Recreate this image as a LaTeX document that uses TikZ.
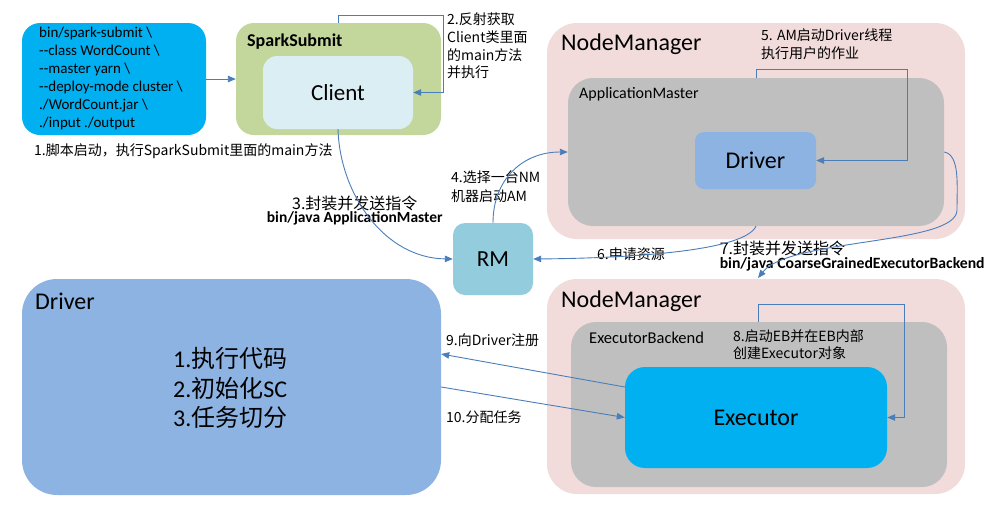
\documentclass[tikz,border=0pt]{standalone}
\usepackage{fontspec}
\setmainfont{Carlito}[Ligatures=TeXOff]
\newfontfamily\cjk{Noto Sans CJK SC}
\usetikzlibrary{arrows.meta}
\definecolor{cmdblue}{HTML}{00B0F0}
\definecolor{ssgreen}{HTML}{C3D69B}
\definecolor{clientbg}{HTML}{DBEEF4}
\definecolor{nmpink}{HTML}{F2DCDB}
\definecolor{amgray}{HTML}{BFBFBF}
\definecolor{drvblue}{HTML}{8DB3E2}
\definecolor{rmblue}{HTML}{93CDDD}
\definecolor{arrowblue}{HTML}{4A7EBB}
\newcommand\myfs[2]{\fontsize{#1}{#2}\selectfont}
\tikzset{
  box/.style={rounded corners=#1, inner sep=0pt, draw=none},
  box/.default=15,
  conn/.style={draw=arrowblue, line width=0.9pt, -{Triangle[length=8pt,width=6.5pt]}},
  lbl/.style={inner sep=0pt, font=\cjk\myfs{14}{18}, align=left},
  title/.style={inner sep=0pt, anchor=west},
}
\begin{document}
\begin{tikzpicture}[x=1pt,y=-1pt]
\useasboundingbox (0,0) rectangle (1002,515);
\fill[white] (0,0) rectangle (1002,515);

% ---------- boxes ----------
\node[box=18, fill=cmdblue, minimum width=184pt, minimum height=112pt] (cmd) at (114,79) {};
\node[box=18, fill=ssgreen, minimum width=205pt, minimum height=112pt] (ss) at (338.5,79) {};
\node[box=14, fill=clientbg, minimum width=150pt, minimum height=73pt, font=\myfs{23}{27}] (client) at (338,92.5) {Client};

\node[box=30, fill=nmpink, minimum width=418pt, minimum height=216pt] (nm1) at (756,131) {};
\node[box=25, fill=amgray, minimum width=376pt, minimum height=148pt] (am) at (756,152) {};
\node[box=9, fill=drvblue, minimum width=121pt, minimum height=57pt, font=\myfs{24}{28}] (drv) at (755.5,160.5) {Driver};

\node[box=12, fill=rmblue, minimum width=80pt, minimum height=72pt, font=\myfs{23}{27}] (rm) at (493,259) {RM};

\node[box=35, fill=drvblue, minimum width=419pt, minimum height=216pt] (bigdrv) at (231.5,387) {};
\node[box=30, fill=nmpink, minimum width=418pt, minimum height=215pt] (nm2) at (756,386.5) {};
\node[box=25, fill=amgray, minimum width=376pt, minimum height=165pt] (eb) at (759,404.5) {};
\node[box=20, fill=cmdblue, minimum width=262pt, minimum height=101pt, font=\myfs{24}{28}] (exe) at (756,417.5) {Executor};

% ---------- titles and texts ----------
\node[inner sep=0pt, anchor=north west, align=left, font=\myfs{15}{17.9}] (cmdtxt) at (39,27)
  {bin/spark-submit \textbackslash\\--class WordCount \textbackslash\\--master yarn \textbackslash\\--deploy-mode cluster \textbackslash\\./WordCount.jar \textbackslash\\./input ./output};
\node[title, font=\bfseries\myfs{18}{21}] (sstitle) at (247,42) {SparkSubmit};
\node[title, font=\myfs{24}{28}] (nm1title) at (561,44) {NodeManager};
\node[title, font=\myfs{16}{19}] (amtitle) at (579,94) {ApplicationMaster};
\node[title, font=\myfs{24}{28}] (nm2title) at (561,301) {NodeManager};
\node[title, font=\myfs{16.5}{19}] (ebtitle) at (589,338) {ExecutorBackend};
\node[title, font=\myfs{24}{28}] (bigdrvtitle) at (35,301) {Driver};
\node[inner sep=0pt, anchor=west, align=left, font=\myfs{24}{29.5}] (steps) at (173,388)
  {1.{\cjk 执行代码}\\2.{\cjk 初始化}SC\\3.{\cjk 任务切分}};

% ---------- labels ----------
\node[lbl, anchor=west] (l1) at (34,151) {1.脚本启动，执行SparkSubmit里面的main方法};
\node[lbl, anchor=north west, font=\cjk\myfs{14}{17.8}] (l2) at (447,12.5) {2.反射获取\\Client类里面\\的main方法\\并执行};
\node[inner sep=0pt, align=center] (l3) at (353,210.5)
  {{\cjk\myfs{16}{19} 3.封装并发送指令}\\{\bfseries\myfs{15.5}{19} bin/java ApplicationMaster}};
\node[lbl, anchor=north west, font=\cjk\myfs{14}{19}] (l4) at (451,170) {4.选择一台NM\\机器启动AM};
\node[lbl, anchor=north west] (l5) at (761,29) {5. AM启动Driver线程\\执行用户的作业};
\node[lbl, anchor=west] (l6) at (597,254) {6.申请资源};
\node[inner sep=0pt, align=left, anchor=north west] (l7) at (716,241)
  {{\cjk\myfs{16}{21} 7.封装并发送指令}\\{\bfseries\myfs{15.7}{21} bin/java CoarseGrainedExecutorBackend}};
\node[lbl, anchor=north west, font=\cjk\myfs{14}{17.5}] (l8) at (733,329) {8.启动EB并在EB内部\\创建Executor对象};
\node[lbl, anchor=west] (l9) at (446,340) {9.向Driver注册};
\node[lbl, anchor=west] (l10) at (446,417) {10.分配任务};

% ---------- connectors ----------
\coordinate (c2) at (443,15);
\coordinate (c5) at (907,69);
\coordinate (c7) at (758,278);
\coordinate (c8) at (904,304);

\draw[conn] (cmd.east) -- (ss.west);
\draw[conn] (ss.north) |- (c2) |- (client.east);
\draw[conn] (client.south) .. controls (340,195) and (385,258) .. (rm.west);
\draw[conn] (rm.north) .. controls (493,180) and (522,152) .. (am.west);
\draw[conn] (am.north) |- (c5) |- (drv.east);
\draw[conn] (am.south) .. controls (745,250) and (640,258) .. (rm.east);
\draw[conn] (am.east) .. controls (960,155) and (957,185) .. (957,210)
             .. controls (957,245) and (790,238) .. (c7);
\draw[conn] (eb.north -| 758,0) |- (c8) |- (exe.east);
\draw[conn] ([yshift=30.5pt]exe.west) -- ([yshift=33pt]bigdrv.east);
\draw[conn] (bigdrv.east) -- (exe.west);
\end{tikzpicture}
\end{document}
